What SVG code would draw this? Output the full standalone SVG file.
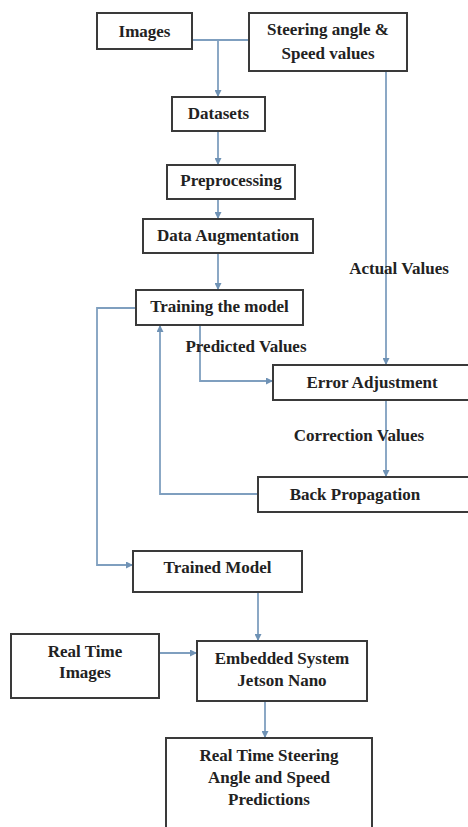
<svg xmlns="http://www.w3.org/2000/svg" width="468" height="827" viewBox="0 0 468 827">
<style>
.box{fill:#fff;stroke:#3a3a3a;stroke-width:2}
.t{font-family:"Liberation Serif","DejaVu Serif","Times New Roman",serif;font-weight:bold;font-size:17px;fill:#222;text-anchor:middle}
.c{fill:none;stroke:#7f9fbf;stroke-width:1.8}
</style>
<defs>
<marker id="ah" viewBox="0 0 10 10" refX="10" refY="5" markerWidth="7" markerHeight="7" markerUnits="userSpaceOnUse" orient="auto">
<path d="M0,0 L10,5 L0,10 z" fill="#6f92b5"/>
</marker>
</defs>
<rect width="468" height="827" fill="#fff"/>
<g id="connectors" font-family="Liberation Serif, serif">
<path class="c" d="M192,40 H249"/>
<path class="c" d="M218,40 V97" marker-end="url(#ah)"/>
<path class="c" d="M218,131 V165" marker-end="url(#ah)"/>
<path class="c" d="M218,199 V219" marker-end="url(#ah)"/>
<path class="c" d="M218,253 V290" marker-end="url(#ah)"/>
<path class="c" d="M386,71 V365" marker-end="url(#ah)"/>
<path class="c" d="M200,325 V381 H273" marker-end="url(#ah)"/>
<path class="c" d="M386,400 V477" marker-end="url(#ah)"/>
<path class="c" d="M258,494 H160 V325" marker-end="url(#ah)"/>
<path class="c" d="M136,308 H97 V565 H133" marker-end="url(#ah)"/>
<path class="c" d="M258,592 V641" marker-end="url(#ah)"/>
<path class="c" d="M159,653 H197" marker-end="url(#ah)"/>
<path class="c" d="M265,701 V738" marker-end="url(#ah)"/>
<text class="t" x="246" y="352">Predicted Values</text>
<text class="t" x="399" y="274">Actual Values</text>
<text class="t" x="359" y="441">Correction Values</text>
</g>
<g id="images"><rect class="box" x="97" y="13" width="95" height="36"/><text class="t" x="144.5" y="37">Images</text></g>
<g id="steering"><rect class="box" x="249" y="13" width="158" height="58"/><text class="t" x="328" y="35">Steering angle &amp;</text><text class="t" x="328" y="59">Speed values</text></g>
<g id="datasets"><rect class="box" x="172" y="97" width="93" height="34"/><text class="t" x="218.5" y="119">Datasets</text></g>
<g id="preprocessing"><rect class="box" x="167" y="165" width="128" height="34"/><text class="t" x="231" y="186">Preprocessing</text></g>
<g id="augmentation"><rect class="box" x="143" y="219" width="170" height="34"/><text class="t" x="228" y="241">Data Augmentation</text></g>
<g id="training"><rect class="box" x="136" y="290" width="167" height="35"/><text class="t" x="219.5" y="312">Training the model</text></g>
<g id="error"><rect class="box" x="273" y="365" width="200" height="35"/><text class="t" x="372" y="388">Error Adjustment</text></g>
<g id="backprop"><rect class="box" x="258" y="477" width="215" height="35"/><text class="t" x="355" y="500">Back Propagation</text></g>
<g id="trained"><rect class="box" x="133" y="551" width="169" height="41"/><text class="t" x="217.5" y="573">Trained Model</text></g>
<g id="realtime"><rect class="box" x="11" y="634" width="148" height="64"/><text class="t" x="85" y="657">Real Time</text><text class="t" x="85" y="678">Images</text></g>
<g id="embedded"><rect class="box" x="197" y="641" width="170" height="60"/><text class="t" x="282" y="664">Embedded System</text><text class="t" x="282" y="686">Jetson Nano</text></g>
<g id="predictions"><rect class="box" x="166" y="738" width="206" height="95"/><text class="t" x="269" y="761">Real Time Steering</text><text class="t" x="269" y="783">Angle and Speed</text><text class="t" x="269" y="805">Predictions</text></g>
</svg>
